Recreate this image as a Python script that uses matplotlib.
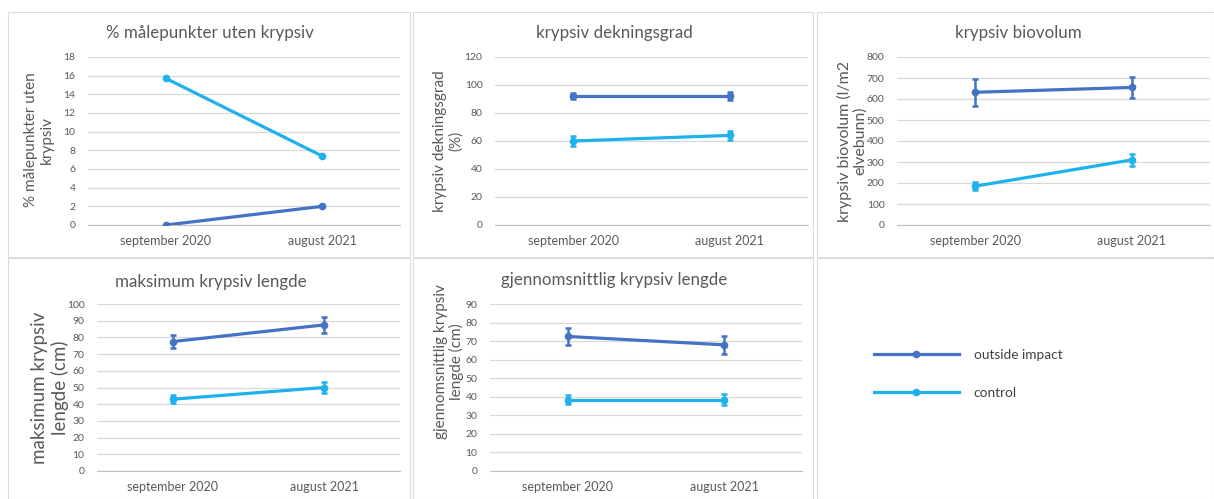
import matplotlib
matplotlib.use("Agg")
import matplotlib.pyplot as plt
from matplotlib.patches import Rectangle

plt.rcParams['font.family'] = ['Lato', 'DejaVu Sans']

W, H = 1214, 499

categories = ["september 2020", "august 2021"]
series_names = ["outside impact", "control"]

# % malepunkter uten krypsiv (no error bars)
p1_outside = [0, 2]
p1_control = [15.7, 7.4]

# krypsiv dekningsgrad
p2_outside = [92, 92]
p2_outside_err = [2, 3]
p2_control = [60, 64]
p2_control_err = [3.5, 3.5]

# krypsiv biovolum
p3_outside = [632, 655]
p3_outside_err = [65, 50]
p3_control = [185, 310]
p3_control_err = [20, 30]

# maksimum krypsiv lengde
p4_outside = [77.5, 87.5]
p4_outside_err = [4, 5]
p4_control = [43, 50]
p4_control_err = [2.5, 3.5]

# gjennomsnittlig krypsiv lengde
p5_outside = [72.5, 68]
p5_outside_err = [4.5, 5]
p5_control = [38.5, 38.5]
p5_control_err = [2.5, 3]

c_out = '#4472C4'
c_ctl = '#1EB1EC'
grid_c = '#D9D9D9'
txt_c = '#595959'

fig = plt.figure(figsize=(W / 100, H / 100), dpi=100)
fig.patch.set_facecolor('white')


def px(x0, y0, x1, y1):
    # pixel box -> figure fraction [left, bottom, width, height]
    return [x0 / W, 1 - y1 / H, (x1 - x0) / W, (y1 - y0) / H]


# panel frames
frames = [(8, 12, 410, 257), (413, 12, 813, 257), (817, 12, 1214, 257),
          (8, 258, 410, 499), (413, 258, 813, 499), (817, 258, 1214, 499)]
for (x0, y0, x1, y1) in frames:
    fig.patches.append(Rectangle((x0 / W, 1 - y1 / H), (x1 - x0) / W, (y1 - y0) / H,
                                 transform=fig.transFigure, fill=False,
                                 edgecolor='#DCDCDC', linewidth=0.8))

panels = [
    dict(box=(88, 57, 400, 225), ymax=18, step=2, out=p1_outside, oerr=None,
         ctl=p1_control, cerr=None, title="% målepunkter uten krypsiv", tpos=(210, 33),
         ylabel="% målepunkter uten\nkrypsiv", lpos=(39, 140), lsize=11),
    dict(box=(495, 57, 808, 225), ymax=120, step=20, out=p2_outside, oerr=p2_outside_err,
         ctl=p2_control, cerr=p2_control_err, title="krypsiv dekningsgrad", tpos=(614, 33),
         ylabel="krypsiv dekningsgrad\n(%)", lpos=(448, 141), lsize=11),
    dict(box=(897, 57, 1210, 225), ymax=800, step=100, out=p3_outside, oerr=p3_outside_err,
         ctl=p3_control, cerr=p3_control_err, title="krypsiv biovolum", tpos=(1018, 33),
         ylabel="krypsiv biovolum (l/m2\nelvebunn)", lpos=(852, 141), lsize=11.5),
    dict(box=(97, 304, 400, 471), ymax=100, step=10, out=p4_outside, oerr=p4_outside_err,
         ctl=p4_control, cerr=p4_control_err, title="maksimum krypsiv lengde", tpos=(211, 282),
         ylabel="maksimum krypsiv\nlengde (cm)", lpos=(50, 388), lsize=13.5),
    dict(box=(490, 304, 802, 471), ymax=90, step=10, out=p5_outside, oerr=p5_outside_err,
         ctl=p5_control, cerr=p5_control_err, title="gjennomsnittlig krypsiv lengde", tpos=(614, 280),
         ylabel="gjennomsnittlig krypsiv\nlengde (cm)", lpos=(449, 362), lsize=11),
]

x = [0, 1]
handles = []
for p in panels:
    ax = fig.add_axes(px(*p['box']))
    ax.set_facecolor('none')
    for vals, err, col in [(p['out'], p['oerr'], c_out), (p['ctl'], p['cerr'], c_ctl)]:
        h = ax.errorbar(x, vals, yerr=err, color=col, linewidth=2.3, marker='o',
                        markersize=4.5, capsize=2.5, elinewidth=1.8, capthick=1.8, zorder=3)
        handles.append(h)
    ax.set_xlim(-0.5, 1.5)
    ax.set_ylim(0, p['ymax'])
    ax.set_yticks(range(0, p['ymax'] + 1, p['step']))
    ax.set_xticks(x)
    ax.set_xticklabels(categories)
    ax.grid(axis='y', color=grid_c, linewidth=0.9)
    ax.set_axisbelow(True)
    for s in ['top', 'right', 'left']:
        ax.spines[s].set_visible(False)
    ax.spines['bottom'].set_color('#BFBFBF')
    ax.tick_params(axis='both', length=0, colors=txt_c)
    ax.tick_params(axis='y', labelsize=7.5, pad=9)
    ax.tick_params(axis='x', labelsize=9, pad=7)
    fig.text(p['tpos'][0] / W, 1 - p['tpos'][1] / H, p['title'], ha='center', va='center',
             fontsize=12.2, color=txt_c)
    fig.text(p['lpos'][0] / W, 1 - p['lpos'][1] / H, p['ylabel'], ha='center', va='center',
             rotation=90, fontsize=p['lsize'], color=txt_c, linespacing=1.15)

# legend in the empty sixth panel
leg = fig.legend(handles[:2], series_names, loc='upper left',
                 bbox_to_anchor=(862 / W, 1 - 337 / H), frameon=False,
                 fontsize=9.8, handlelength=6.2, handletextpad=1.1, labelspacing=1.9)
for t in leg.get_texts():
    t.set_color('#404040')

fig.savefig("out.png", dpi=100, facecolor='white')
